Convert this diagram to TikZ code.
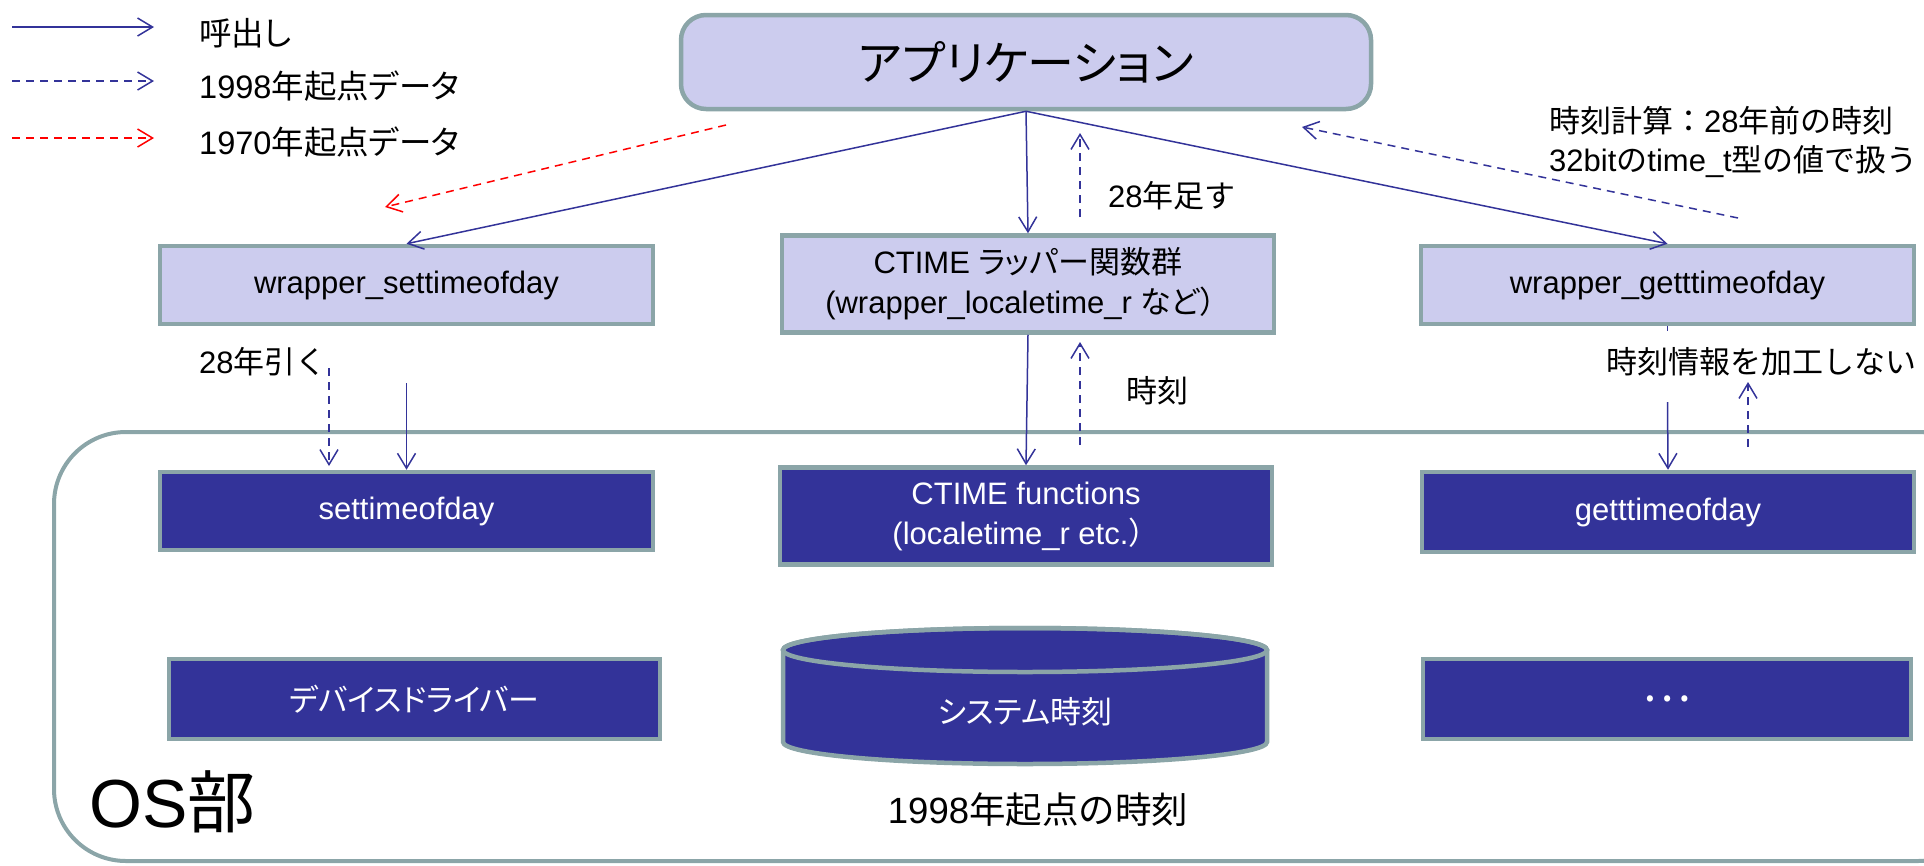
\documentclass[tikz,border=0pt]{standalone}
\usepackage{fontspec}
\setmainfont{Liberation Sans}
\newfontfamily\jp{Noto Sans CJK JP}[RawFeature=+palt]
\newfontfamily\jpf{Noto Sans CJK JP}
\usetikzlibrary{arrows.meta}

\definecolor{lightbox}{HTML}{CCCCEE}
\definecolor{darkbox}{HTML}{333399}
\definecolor{rim}{HTML}{8BA5A8}
\definecolor{callblue}{HTML}{333399}

\tikzset{
  callline/.style={draw=callblue, line width=1.5pt,
    -{Straight Barb[length=15pt,width=18pt]}},
  dataline/.style={callline, dash pattern=on 8pt off 6pt},
  oldline/.style={dataline, draw=red},
  labelfont/.style={font=\fontsize{31}{40}\selectfont},
  upper/.style={draw=rim, line width=4.5pt, fill=lightbox, text=black,
    align=center, inner sep=0pt, labelfont},
  lower/.style={upper, fill=darkbox, text=white},
  note/.style={inner sep=0pt, labelfont},
}

\begin{document}
\begin{tikzpicture}[x=1pt,y=-1pt]
\useasboundingbox (0,0) rectangle (1924,865);

% OS region
\draw[rim, line width=4pt, rounded corners=72pt] (54,432) rectangle (1990,861);
\node[anchor=west, inner sep=0pt, font=\fontsize{68}{80}\selectfont] (oslabel) at (89,802) {OS{\jp 部}};

% legend
\coordinate (k1a) at (12,27);  \coordinate (k1b) at (154,27);
\coordinate (k2a) at (12,81);  \coordinate (k2b) at (154,81);
\coordinate (k3a) at (12,138); \coordinate (k3b) at (154,138);
\draw[callline] (k1a) -- (k1b);
\draw[dataline] (k2a) -- (k2b);
\draw[oldline] (k3a) -- (k3b);
\node[note, anchor=west, font=\fontsize{32.5}{40}\selectfont] (k1) at (199,33) {\jp 呼出し};
\node[note, anchor=west, font=\fontsize{32.5}{40}\selectfont] (k2) at (199,86) {1998{\jp 年起点データ}};
\node[note, anchor=west, font=\fontsize{32.5}{40}\selectfont] (k3) at (199,142) {1970{\jp 年起点データ}};

% application layer
\node[upper, rounded corners=25pt, minimum width=690pt, minimum height=94pt,
      font=\fontsize{47}{56}\selectfont\jp] (app) at (1026,62) {アプリケーション};

% wrapper layer
\node[upper, minimum width=493pt, minimum height=78pt] (wset) at (406.5,285) {wrapper\_settimeofday};
\node[upper, minimum width=492pt, minimum height=97pt] (wct) at (1028,284)
  {CTIME {\jp ラッパー関数群}\\(wrapper\_localetime\_r {\jp など}{\jpf ）}};
\node[upper, minimum width=493pt, minimum height=78pt] (wget) at (1667.5,285) {wrapper\_getttimeofday};

% OS functions
\node[lower, minimum width=493pt, minimum height=78pt] (set) at (406.5,511) {settimeofday};
\node[lower, minimum width=492pt, minimum height=97pt] (ctf) at (1026,516)
  {CTIME functions\\(localetime\_r etc.{\jpf ）}};
\node[lower, minimum width=492pt, minimum height=80pt] (get) at (1668,512) {getttimeofday};

% bottom row
\node[lower, minimum width=491pt, minimum height=80pt] (dev) at (414.5,699) {\jp デバイスドライバー};
\node[lower, minimum width=488pt, minimum height=80pt, font=\fontsize{46}{50}\selectfont] (etc) at (1667,699) {\jpf …};

% system clock cylinder
\path[fill=darkbox, draw=rim, line width=4.5pt]
  (783,650) -- (783,742) arc[start angle=180, end angle=0, x radius=242, y radius=22]
  -- (1267,650) arc[start angle=0, end angle=-180, x radius=242, y radius=22] -- cycle;
\draw[rim, line width=4.5pt] (1025,650) ellipse [x radius=242, y radius=22];
\node[note, text=white] (sys) at (1025,712) {\jp システム時刻};
\node[note, font=\fontsize{36.5}{42}\selectfont] (epoch) at (1038,810) {1998{\jpf 年起点の時刻}};

% annotations
\node[note, anchor=west] (add28) at (1108,196) {28{\jpf 年足す}};
\node[note, anchor=west] (sub28) at (199,362) {28{\jpf 年引く}};
\node[note, anchor=west] (tm) at (1126,391) {\jpf 時刻};
\node[note, anchor=west, align=left, font=\fontsize{31}{39}\selectfont] (calc) at (1549,142)
  {{\jpf 時刻計算：}28{\jpf 年前の時刻}\\32bit{\jpf の}time\_t{\jpf 型の値で扱う}};
\node[note, anchor=west] (raw) at (1606,362) {\jpf 時刻情報を加工しない};

% calls from the application
\draw[callline] (app.south) -- (wset.north);
\draw[callline] (app.south) -- (wct.north);
\draw[callline] (app.south) -- (wget.north);

% data returned to the application
\coordinate (a1) at (1080,217); \coordinate (a2) at (1080,133);
\draw[dataline] (a1) -- (a2);
\coordinate (r1) at (726,125); \coordinate (r2) at (385,207);
\draw[oldline] (r1) -- (r2);
\coordinate (b1) at (1738,218); \coordinate (b2) at (1302,127);
\draw[dataline] (b1) -- (b2);

% settimeofday path
\coordinate (c1) at (329,368); \coordinate (c2) at (329,466);
\draw[dataline] (c1) -- (c2);
\coordinate (d1) at (406.5,383);
\draw[callline] (d1) -- (set.north);

% CTIME path
\draw[callline] (wct.south) -- (ctf.north);
\coordinate (e1) at (1080,445); \coordinate (e2) at (1080,342);
\draw[dataline] (e1) -- (e2);

% gettimeofday path
\coordinate (h1) at (1667.5,331);
\draw[callblue, line width=1.5pt] (wget.south) -- (h1);
\coordinate (f1) at (1667.5,402);
\draw[callline] (f1) -- (get.north);
\coordinate (g1) at (1748,447); \coordinate (g2) at (1748,382);
\draw[dataline] (g1) -- (g2);
\end{tikzpicture}
\end{document}
